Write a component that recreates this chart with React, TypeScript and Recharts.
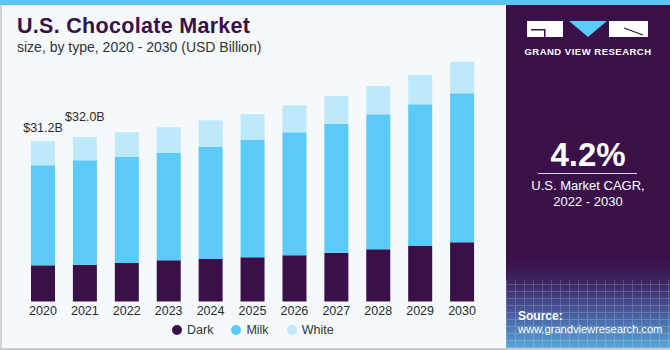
import React from "react";
import { BarChart, Bar, XAxis, YAxis, LabelList } from "recharts";

const years = ["2020", "2021", "2022", "2023", "2024", "2025", "2026", "2027", "2028", "2029", "2030"];
const dark = [7.04, 7.16, 7.49, 8.02, 8.27, 8.6, 8.99, 9.49, 10.16, 10.8, 11.52];
const milk = [19.46, 20.31, 20.68, 20.93, 21.85, 22.82, 23.93, 25.1, 26.26, 27.57, 28.99];
const white = [4.7, 4.53, 4.75, 4.94, 5.14, 5.0, 5.25, 5.39, 5.51, 5.7, 6.15];
const totalLabels = ["$31.2B", "$32.0B"];

const DARK = "#3a1048";
const MILK = "#5ccaf7";
const WHITE = "#bde9fa";
const PURPLE = "#3a1049";
const FONT = "'Liberation Sans', Arial, sans-serif";

const data = years.map((y, i) => ({
  year: y,
  dark: dark[i],
  milk: milk[i],
  white: white[i],
}));

const series = [
  { key: "dark", label: "Dark", fill: DARK },
  { key: "milk", label: "Milk", fill: MILK },
  { key: "white", label: "White", fill: WHITE },
];

// offsets above the bar top for the two value labels
const labelLift = [9.5, 16.5];

const TotalLabel = (props: any) => {
  const { x, y, width, index } = props;
  if (index > 1) return null;
  return (
    <text
      x={x + width / 2}
      y={y - labelLift[index]}
      textAnchor="middle"
      fontSize={12.5}
      fontFamily={FONT}
      fill="#2a2a2a"
    >
      {totalLabels[index]}
    </text>
  );
};

const LegendContent = () => (
  <div style={{ display: "flex", fontFamily: FONT, fontSize: 12.5, color: "#333" }}>
    {series.map((s) => (
      <div key={s.key} style={{ display: "flex", alignItems: "center", marginRight: 18 }}>
        <span
          style={{
            display: "inline-block",
            width: 10,
            height: 10,
            borderRadius: 5,
            background: s.fill,
            marginRight: 5,
          }}
        />
        {s.label}
      </div>
    ))}
  </div>
);

export default function App() {
  return (
    <div
      style={{
        position: "absolute",
        left: 0,
        top: 0,
        width: 670,
        height: 350,
        background: "#f5f9fc",
        overflow: "hidden",
        fontFamily: FONT,
      }}
    >
      <div style={{ position: "absolute", left: 0, top: 0, width: 670, height: 5, background: "#5cc6f2" }} />
      <div style={{ position: "absolute", left: 0, top: 5, width: 2, height: 345, background: "#d0d4d8" }} />
      <div style={{ position: "absolute", left: 0, top: 348, width: 670, height: 2, background: "#c8ccd0" }} />

      <div
        style={{
          position: "absolute",
          left: 17,
          top: 14,
          fontSize: 21.5,
          fontWeight: 700,
          color: PURPLE,
          letterSpacing: 0.3,
        }}
      >
        U.S. Chocolate Market
      </div>
      <div style={{ position: "absolute", left: 17, top: 39, fontSize: 14, color: "#333" }}>
        size, by type, 2020 - 2030 (USD Billion)
      </div>

      <div style={{ position: "absolute", left: 0, top: 0 }}>
        <BarChart
          width={506}
          height={350}
          data={data}
          margin={{ top: 60, right: 23, bottom: 28.5, left: 22 }}
          barSize={24}
        >
          <XAxis
            dataKey="year"
            axisLine={false}
            tickLine={false}
            tickSize={0}
            tickMargin={5}
            height={20}
            interval={0}
            tick={{ fontSize: 12.5, fill: "#2a2a2a", fontFamily: FONT }}
          />
          <YAxis hide domain={[0, 47]} />
          {series.map((s) => (
            <Bar
              key={s.key}
              dataKey={s.key}
              name={s.label}
              stackId="a"
              fill={s.fill}
              isAnimationActive={false}
            >
              {s.key === "white" && <LabelList dataKey="white" content={<TotalLabel />} />}
            </Bar>
          ))}
        </BarChart>
      </div>

      <div style={{ position: "absolute", left: 172, top: 323 }}>
        <LegendContent />
      </div>

      {/* right panel */}
      <div
        style={{
          position: "absolute",
          left: 506,
          top: 5,
          width: 164,
          height: 343,
          background: `linear-gradient(to bottom, ${PURPLE} 0px, ${PURPLE} 255px, #3d2a66 280px, #45569a 305px, #55a6d8 343px)`,
          color: "#fff",
        }}
      >
        <div
          style={{
            position: "absolute",
            left: 0,
            top: 275,
            width: 164,
            height: 68,
            opacity: 0.18,
            backgroundImage:
              "repeating-linear-gradient(0deg, #ffffff 0 1px, transparent 1px 7px), repeating-linear-gradient(90deg, #ffffff 0 1px, transparent 1px 9px)",
          }}
        />
        <svg width={164} height={60} style={{ position: "absolute", left: 0, top: 0 }}>
          <rect x={21} y={16} width={36} height={16} fill="#fff" />
          <rect x={25} y={24} width={14} height={1.5} fill={PURPLE} />
          <rect x={38} y={24} width={1.5} height={8} fill={PURPLE} />
          <polygon points="63,16 101,16 82,32" fill={MILK} />
          <rect x={103} y={16} width={39} height={16} fill="#fff" />
          <line x1={118} y1={23} x2={137} y2={30} stroke={PURPLE} strokeWidth={1.3} />
        </svg>
        <div
          style={{
            position: "absolute",
            left: 0,
            top: 41,
            width: 164,
            textAlign: "center",
            fontSize: 9.5,
            fontWeight: 700,
            letterSpacing: 0.5,
          }}
        >
          GRAND VIEW RESEARCH
        </div>
        <div
          style={{
            position: "absolute",
            left: 0,
            top: 131,
            width: 164,
            textAlign: "center",
            fontSize: 33,
            fontWeight: 700,
          }}
        >
          4.2%
        </div>
        <div style={{ position: "absolute", left: 32, top: 168, width: 99, height: 1, background: "#e0d8e8" }} />
        <div
          style={{
            position: "absolute",
            left: 0,
            top: 173,
            width: 164,
            textAlign: "center",
            fontSize: 13,
            lineHeight: "16px",
          }}
        >
          U.S. Market CAGR,
          <br />
          2022 - 2030
        </div>
        <div style={{ position: "absolute", left: 12, top: 304, fontSize: 12, fontWeight: 700 }}>Source:</div>
        <div style={{ position: "absolute", left: 12, top: 318, fontSize: 11.3, letterSpacing: -0.1, whiteSpace: "nowrap" }}>
          www.grandviewresearch.com
        </div>
      </div>
    </div>
  );
}
